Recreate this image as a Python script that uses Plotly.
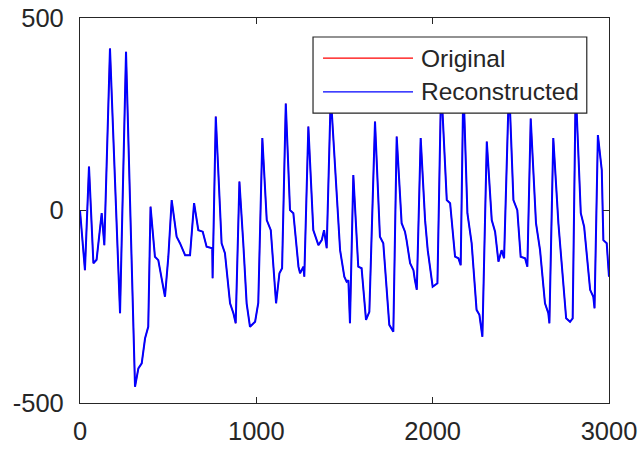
import plotly.graph_objects as go

# Sample positions (x) and signal values, vertex by vertex
sample_idx = [
    0, 28, 51, 76, 94, 123, 138, 170, 227, 261, 312, 331, 350, 369, 387, 400,
    425, 444, 482, 501, 520, 548, 567, 596, 624, 647, 671, 696, 718, 750, 752,
    770, 803, 822, 851, 870, 883, 904, 926, 945, 964, 993, 1011, 1034, 1059,
    1082, 1112, 1131, 1146, 1167, 1191, 1210, 1239, 1248, 1267, 1272, 1295,
    1323, 1352, 1371, 1384, 1399, 1422, 1475, 1499, 1512, 1522, 1531, 1550,
    1578, 1597, 1622, 1641, 1673, 1701, 1720, 1754, 1777, 1796, 1824, 1843,
    1852, 1872, 1891, 1899, 1910, 1932, 1957, 1972, 2000, 2027, 2048, 2080,
    2099, 2127, 2146, 2159, 2174, 2197, 2221, 2249, 2265, 2282, 2307, 2335,
    2354, 2373, 2391, 2405, 2433, 2458, 2480, 2499, 2524, 2537, 2556, 2586,
    2609, 2637, 2656, 2662, 2684, 2713, 2732, 2757, 2779, 2794, 2811, 2840,
    2859, 2893, 2911, 2918, 2937, 2959, 2968, 2987, 3000,
]

original = [
    0, -155, 114, -137, -128, -7, -90, 421, -267, 412, -458, -410, -397, -332,
    -302, 10, -120, -129, -224, -120, 27, -68, -85, -116, -116, 19, -51, -55,
    -94, -98, -176, 244, -85, -111, -241, -267, -293, 75, -85, -241, -302,
    -289, -240, 188, -25, -51, -241, -163, -150, 278, 1, -7, -146, -163, -146,
    -172, 218, -51, -90, -77, -51, -98, 300, -103, -172, -185, -181, -293, 92,
    -146, -150, -284, -263, 231, -68, -85, -297, -315, 192, -33, -55, -77,
    -137, -155, -180, -206, 188, -25, -103, -198, -189, 330, 27, 19, -120,
    -124, -142, 330, -7, -85, -258, -271, -328, 179, -25, -55, -133, -103,
    -124, 330, 27, 1, -120, -124, -146, 239, -33, -103, -241, -267, -293, 188,
    -33, -137, -280, -289, -280, 320, -7, -42, -206, -224, -254, 196, 105,
    -77, -85, -172,
]

reconstructed = list(original)

x_ticks = [0, 1000, 2000, 3000]
y_ticks = [-500, 0, 500]

series_names = ["Original", "Reconstructed"]
series_colors = ["#FF0000", "#0000FF"]
series_widths = [1.2, 2.0]

axis_color = "#262626"
font_family = "Liberation Sans, Arial, Helvetica, sans-serif"

fig = go.Figure()
for name, ys, color, w in zip(series_names, [original, reconstructed],
                              series_colors, series_widths):
    fig.add_trace(go.Scatter(
        x=sample_idx, y=ys, mode="lines", name=name,
        line=dict(color=color, width=w),
        showlegend=False,
    ))

# Boxed legend in the upper right of the axes
lx0, lx1 = 0.4405, 0.958
ly0, ly1 = 0.753, 0.9506
row_y = [0.896, 0.808]
fig.add_shape(type="rect", xref="paper", yref="paper",
              x0=lx0, x1=lx1, y0=ly0, y1=ly1,
              line=dict(color=axis_color, width=1.2), fillcolor="white",
              layer="above")
for name, color, yy in zip(series_names, series_colors, row_y):
    fig.add_shape(type="line", xref="paper", yref="paper",
                  x0=0.4594, x1=0.6295, y0=yy, y1=yy,
                  line=dict(color=color, width=1.2), layer="above")
    fig.add_annotation(xref="paper", yref="paper", x=0.6400, y=yy,
                       text=name, showarrow=False, xanchor="left",
                       yanchor="middle",
                       font=dict(family=font_family, size=24.5, color=axis_color))

axis_common = dict(
    showline=True, linecolor=axis_color, linewidth=1.2, mirror="ticks",
    ticks="inside", ticklen=6, tickwidth=1.2, tickcolor=axis_color,
    showgrid=False, zeroline=False, automargin=False,
    tickfont=dict(family=font_family, size=25.5, color=axis_color),
)

fig.update_xaxes(range=[0, 3000], tickvals=x_ticks,
                 ticktext=[str(v) for v in x_ticks],
                 ticklabelstandoff=5, **axis_common)
fig.update_yaxes(range=[-500, 500], tickvals=y_ticks,
                 ticktext=[str(v) for v in y_ticks],
                 ticklabelstandoff=10, **axis_common)

fig.update_layout(
    width=643, height=453,
    margin=dict(l=80, r=34, t=18, b=50, autoexpand=False),
    paper_bgcolor="white", plot_bgcolor="white",
    font=dict(family=font_family, color=axis_color),
)

fig.write_html("out.html")
